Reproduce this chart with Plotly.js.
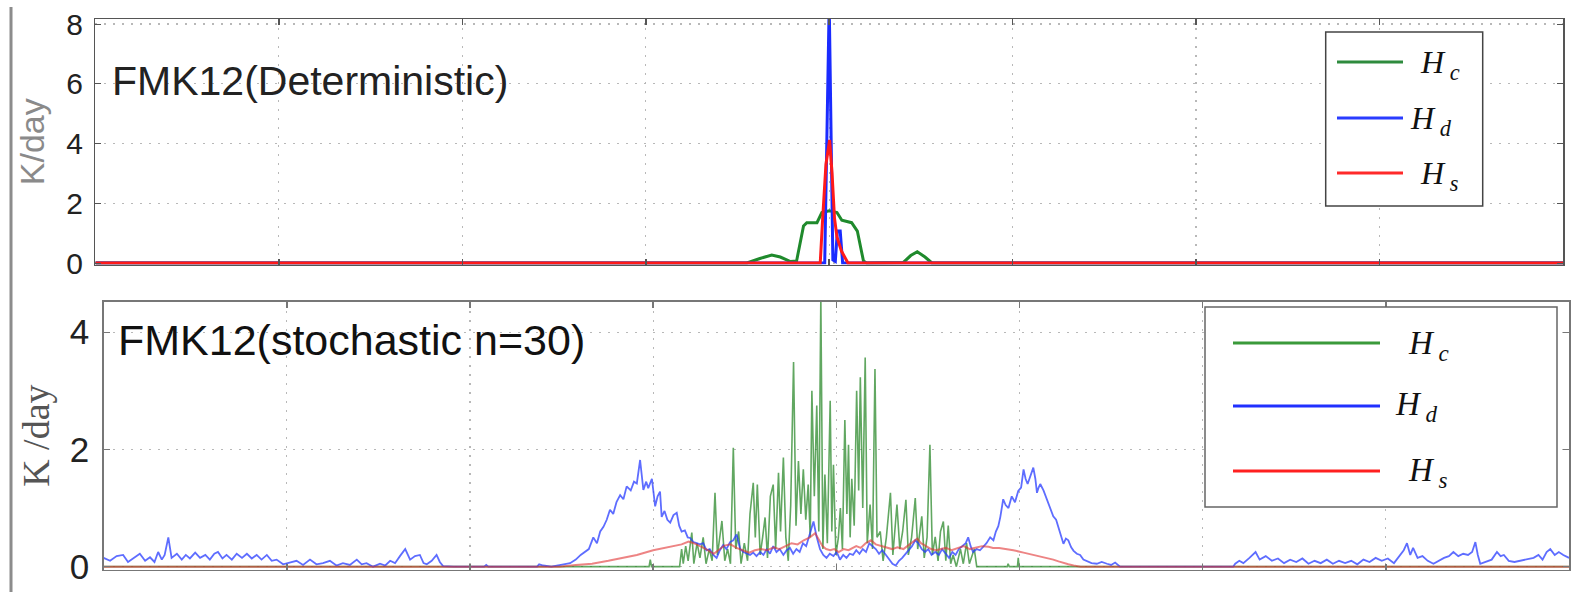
<!DOCTYPE html>
<html>
<head>
<meta charset="utf-8">
<script src="https://cdn.plot.ly/plotly-3.0.1.min.js"></script>
<style>html,body{margin:0;padding:0;background:#fff;}#chart{width:1571px;height:592px;}</style>
</head>
<body>
<div id="chart"></div>
<script>
// ---------- DATA ----------
const xTicks = [0, 45, 90, 135, 180, 225, 270, 315, 360];
const yTicksTop = [0, 2, 4, 6, 8];
const yTicksBottom = [0, 2, 4];
const seriesNames = ['H_c', 'H_d', 'H_s'];
const panelLabels = ['FMK12(Deterministic)', 'FMK12(stochastic n=30)'];

// Deterministic panel: [x, K/day]
const detHc = [[0,0],[159.8,0],[163,0.15],[165.9,0.27],[168,0.2],[170.5,0.05],[172.0,0.07],[173.7,1.24],[174.5,1.35],[177.0,1.35],[178.2,1.69],[179.0,1.72],[180,1.75],[181.0,1.72],[181.9,1.69],[183.1,1.43],[185.5,1.35],[186.9,1.07],[188.4,0.07],[189.2,0],[198.2,0.02],[200,0.25],[201.6,0.38],[203.5,0.2],[205.2,0],[360,0]];
const detHd = [[0,0],[178.9,0],[180.0,8.7],[180.9,0.1],[181.5,0.05],[182.0,1.07],[182.7,1.07],[183.3,0],[360,0]];
const detHs = [[0,0],[177.8,0],[178.4,1.5],[179.2,3.3],[180.1,4.12],[180.7,3.0],[181.3,1.5],[181.9,0.87],[183.0,0.4],[184.6,0],[360,0]];

// Stochastic panel: [x, K/day]
const stoHc = [[0,0],[134,0],[134.3,0.12],[134.6,0],[141.5,0],[142.0,0.3],[142.4,0.05],[143.0,0.35],[143.6,0.1],[144.5,0.58],[145.0,0.05],[145.8,0.4],[146.5,0.15],[147.3,0.5],[148.0,0.05],[148.8,0.3],[149.5,0.1],[150.2,1.26],[150.8,0.2],[151.4,0.5],[151.9,0.78],[152.6,0.1],[153.3,0.3],[154.0,0.05],[154.7,2.03],[155.3,0.3],[156.0,0.6],[156.6,0.05],[157.4,0.4],[158.2,0.1],[158.8,0.9],[159.6,1.43],[160.1,0.5],[160.6,1.4],[161.3,0.2],[161.9,0.5],[162.5,0.84],[163.1,0.15],[163.8,1.2],[164.5,1.4],[165.1,0.3],[165.8,1.6],[166.3,0.6],[167.0,1.86],[167.6,0.5],[168.2,0.1],[168.8,1.05],[169.5,3.49],[170.1,0.7],[170.7,1.8],[171.3,0.9],[171.9,1.66],[172.5,0.8],[173.1,1.4],[173.6,0.5],[174.0,3.0],[174.6,1.2],[175.2,2.75],[175.7,0.6],[176.2,4.6],[176.7,0.3],[177.2,1.57],[177.8,0.4],[178.5,2.83],[178.9,0.6],[179.3,1.74],[179.9,0.2],[180.5,0.49],[181.0,1.0],[181.5,0.3],[182.1,2.5],[182.6,0.9],[183.0,2.08],[183.4,0.5],[183.8,1.5],[184.4,0.7],[185.0,3.0],[185.5,1.3],[185.9,3.23],[186.5,1.0],[187.1,3.57],[187.6,0.4],[188.3,1.06],[188.9,0.3],[189.5,3.37],[190.0,0.5],[190.8,0.6],[191.5,0.1],[192.3,0.5],[193.3,1.26],[193.9,0.2],[194.9,1.06],[195.6,0.3],[196.3,0.6],[197.1,1.14],[197.7,0.2],[198.5,0.5],[199.4,1.17],[200.0,0.3],[201.0,0.86],[201.6,0.15],[202.3,0.5],[203.0,2.08],[203.6,0.2],[204.3,0.51],[205.0,0.1],[205.6,0.6],[206.3,0.77],[206.9,0.1],[207.5,0.7],[208.1,0.05],[208.7,0.2],[209.5,0.0],[210.5,0.3],[211.2,0.05],[212.0,0.4],[212.7,0.05],[213.9,0.3],[214.5,0.0],[222,0],[222.2,0.05],[222.5,0],[224.5,0],[224.7,0.15],[224.9,0],[360,0]];

const stoHd = [[0,0.15],[1.6,0.1],[3.2,0.18],[4.8,0.2],[6.0,0.08],[7.2,0.14],[8.9,0.22],[10.2,0.1],[11.4,0.16],[12.5,0.08],[13.4,0.25],[14.3,0.12],[15.0,0.2],[15.9,0.5],[16.7,0.15],[18.0,0.22],[19.2,0.12],[20.2,0.2],[21.2,0.14],[22.5,0.24],[23.7,0.15],[25.0,0.2],[26.1,0.12],[27.2,0.22],[28.1,0.25],[29.2,0.14],[30.2,0.2],[31.5,0.12],[32.7,0.22],[34.0,0.15],[35.2,0.22],[36.4,0.14],[37.6,0.2],[38.8,0.12],[40.1,0.2],[41.3,0.1],[42.5,0.12],[44.1,0.04],[45.5,0.06],[47.4,0.1],[49.0,0.03],[50.7,0.12],[52.3,0.04],[53.9,0.06],[55.6,0.1],[57.2,0.02],[58.8,0.06],[60.5,0.03],[62.2,0.12],[63.4,0.04],[64.6,0.06],[66.2,0.0],[67.9,0.05],[69.2,0.02],[70.4,0.1],[71.6,0.06],[72.8,0.18],[74.1,0.3],[75.3,0.12],[76.5,0.18],[77.7,0.2],[78.6,0.06],[79.4,0.04],[80.6,0.1],[81.8,0.2],[82.6,0.08],[83.4,0.01],[86,0],[93.5,0],[94,0.03],[94.5,0],[106.5,0],[107,0.04],[108,0.02],[110,0.0],[112,0.02],[113,0.04],[114.6,0.06],[116,0.12],[117.2,0.2],[118.3,0.26],[119.2,0.3],[120.3,0.5],[121.2,0.4],[122.0,0.6],[122.8,0.68],[123.6,0.8],[124.4,0.97],[125.2,0.9],[126.0,1.1],[126.9,1.22],[127.7,1.15],[128.5,1.37],[129.5,1.3],[130.3,1.45],[131.0,1.42],[131.8,1.82],[132.6,1.31],[133.3,1.45],[133.8,1.34],[134.7,1.5],[135.5,1.03],[136.1,1.2],[136.7,1.28],[137.1,0.85],[137.8,0.95],[138.5,0.8],[139.2,0.75],[140.0,0.88],[140.8,0.92],[141.4,0.7],[142.0,0.6],[142.8,0.62],[143.5,0.5],[144.1,0.49],[144.9,0.42],[145.7,0.4],[146.5,0.38],[147.3,0.4],[148.1,0.28],[148.9,0.3],[149.8,0.2],[150.6,0.15],[151.4,0.28],[152.2,0.37],[153.0,0.3],[153.9,0.42],[154.7,0.45],[155.5,0.55],[156.4,0.3],[157.2,0.25],[158.0,0.22],[158.8,0.2],[159.6,0.24],[160.4,0.18],[161.3,0.25],[162.1,0.2],[162.9,0.3],[163.7,0.22],[164.5,0.35],[165.3,0.25],[166.1,0.3],[167.0,0.2],[167.8,0.28],[168.6,0.32],[169.4,0.22],[170.2,0.3],[171.0,0.25],[171.8,0.4],[172.6,0.35],[173.5,0.55],[174.4,0.77],[175.2,0.5],[176.0,0.3],[176.8,0.2],[177.6,0.15],[178.4,0.22],[179.3,0.18],[180.1,0.25],[180.9,0.12],[181.7,0.2],[182.5,0.15],[183.3,0.22],[184.1,0.2],[184.9,0.28],[185.7,0.22],[186.5,0.3],[187.3,0.25],[188.1,0.4],[188.9,0.35],[189.7,0.3],[190.5,0.22],[191.3,0.28],[192.2,0.2],[193.0,0.12],[193.8,0.05],[194.6,0.02],[195.4,0.1],[196.2,0.15],[197.0,0.22],[197.8,0.3],[198.6,0.35],[199.4,0.45],[200.2,0.4],[201.0,0.3],[201.8,0.25],[202.6,0.3],[203.4,0.2],[204.3,0.25],[205.2,0.2],[206.0,0.3],[206.8,0.22],[207.7,0.15],[208.5,0.25],[209.3,0.2],[210.1,0.3],[211.0,0.35],[211.8,0.4],[212.4,0.5],[213.0,0.35],[213.6,0.25],[214.5,0.3],[215.3,0.28],[216.0,0.33],[216.9,0.4],[217.8,0.5],[218.6,0.45],[219.2,0.6],[219.8,0.69],[220.3,0.85],[221.0,1.15],[221.6,1.05],[222.3,1.0],[223.1,1.2],[223.9,1.1],[224.7,1.29],[225.4,1.35],[226.0,1.66],[226.5,1.5],[227.0,1.41],[227.7,1.55],[228.4,1.69],[228.9,1.5],[229.3,1.26],[229.7,1.35],[230.1,1.41],[230.9,1.3],[231.7,1.15],[232.5,1.0],[233.3,0.86],[234.0,0.8],[234.6,0.66],[235.2,0.55],[235.8,0.39],[236.4,0.48],[237.0,0.45],[237.7,0.33],[238.3,0.27],[239.1,0.22],[239.9,0.2],[240.7,0.12],[241.5,0.1],[242.7,0.06],[244.0,0.05],[245.2,0.08],[246.5,0.05],[247.5,0.03],[248.5,0.07],[249.7,0.0],[277.5,0],[278,0.05],[279,0.1],[280,0.06],[281.5,0.15],[283,0.25],[284,0.12],[285.5,0.18],[287,0.1],[288.5,0.14],[290,0.06],[291.5,0.12],[293,0.08],[294.5,0.14],[296,0.05],[297.5,0.1],[299,0.06],[300.5,0.12],[302,0.05],[303.5,0.1],[305,0.06],[306.5,0.1],[308,0.04],[309.5,0.12],[311,0.08],[312.5,0.15],[314,0.1],[315.5,0.14],[317,0.06],[318.5,0.2],[319.4,0.28],[320.2,0.4],[321,0.2],[321.7,0.32],[322.8,0.15],[324,0.18],[325.3,0.1],[326.7,0.05],[328,0.1],[329.3,0.15],[330.5,0.18],[331.6,0.25],[332.8,0.18],[334,0.22],[335.2,0.2],[336.2,0.25],[337,0.42],[337.6,0.2],[338.2,0.05],[339.5,0.08],[341,0.12],[342.3,0.25],[343.2,0.18],[344,0.2],[345.2,0.1],[346.6,0.08],[348,0.1],[349.5,0.12],[351.3,0.15],[352.5,0.2],[353.5,0.12],[354.5,0.25],[355.4,0.3],[356.5,0.2],[357.5,0.25],[358.6,0.2],[360,0.15]];

const stoHs = [[0,0],[112,0],[116,0.03],[120,0.05],[124,0.1],[127,0.14],[131,0.2],[135,0.28],[139,0.33],[142,0.38],[143.7,0.43],[145,0.4],[146.5,0.35],[148,0.3],[149.9,0.22],[151.5,0.3],[152.5,0.36],[154,0.38],[155.5,0.32],[157,0.28],[158.6,0.24],[160,0.28],[161.5,0.3],[163,0.28],[164.7,0.33],[166,0.3],[167.5,0.35],[169,0.4],[170.5,0.38],[172,0.45],[173.5,0.5],[174.8,0.57],[175.8,0.45],[176.6,0.35],[177.5,0.3],[178.5,0.28],[179.5,0.3],[180.6,0.25],[181.8,0.3],[183,0.28],[184.9,0.35],[186,0.32],[187.2,0.4],[188.5,0.45],[189.7,0.38],[191,0.35],[192.3,0.32],[193.7,0.3],[195,0.33],[196.5,0.3],[198,0.38],[199.2,0.45],[199.9,0.48],[200.8,0.4],[202,0.35],[203.3,0.3],[204.5,0.28],[205.5,0.3],[206.9,0.32],[208.3,0.28],[209.8,0.32],[211.3,0.35],[212.8,0.3],[214.3,0.33],[215.8,0.35],[217.4,0.34],[218.5,0.32],[220,0.32],[221.9,0.3],[223.5,0.28],[226,0.24],[228,0.21],[230,0.18],[231.7,0.15],[233.3,0.12],[234.6,0.09],[235.8,0.06],[237,0.04],[238.3,0.02],[240,0.0],[360,0]];

// ---------- STYLE ----------
const W = 1571, H = 592;
const px = v => v / W;            // pixel -> paper x
const py = v => 1 - v / H;        // pixel -> paper y
const cGreen = '#1f8a2c', cBlue = '#1a2bff', cRed = '#ff1a1a';
const xs = a => a.map(p => p[0]);
const ys = a => a.map(p => p[1]);

const traces = [
  {x: xs(detHc), y: ys(detHc), xaxis:'x', yaxis:'y', mode:'lines', name:seriesNames[0], line:{color:cGreen, width:3}},
  {x: xs(detHd), y: ys(detHd), xaxis:'x', yaxis:'y', mode:'lines', name:seriesNames[1], line:{color:cBlue, width:3}},
  {x: xs(detHs), y: ys(detHs), xaxis:'x', yaxis:'y', mode:'lines', name:seriesNames[2], line:{color:cRed, width:3}},
  {x: xs(stoHc), y: ys(stoHc), xaxis:'x2', yaxis:'y2', mode:'lines', name:seriesNames[0], line:{color:'rgba(30,130,30,0.7)', width:1.6}},
  {x: xs(stoHd), y: ys(stoHd), xaxis:'x2', yaxis:'y2', mode:'lines', name:seriesNames[1], line:{color:'rgba(40,60,255,0.75)', width:1.8}},
  {x: xs(stoHs), y: ys(stoHs), xaxis:'x2', yaxis:'y2', mode:'lines', name:seriesNames[2], line:{color:'rgba(225,50,50,0.6)', width:2}}
];

const xCommon = {
  range:[0,360], tickvals:xTicks, showticklabels:false, ticks:'inside', ticklen:6, tickwidth:1.5,
  showline:true, mirror:'ticks', zeroline:false, showgrid:true, griddash:'2px,7px', gridcolor:'#b8b8b8', gridwidth:1.2
};
const layout = {
  width:W, height:H, margin:{l:0,r:0,t:0,b:0}, paper_bgcolor:'#fff', plot_bgcolor:'#fff',
  showlegend:false, hovermode:false,
  xaxis: Object.assign({}, xCommon, {domain:[px(95.4), px(1563)], anchor:'y', linecolor:'#555', linewidth:1.5, tickcolor:'#555'}),
  yaxis: {domain:[py(264.5), py(19)], anchor:'x', range:[-0.05, 8.17], tickvals:yTicksTop, ticks:'inside', ticklen:6, tickcolor:'#555',
          showline:true, mirror:'ticks', linecolor:'#555', linewidth:1.5, zeroline:false, showgrid:true, griddash:'2px,7px', gridcolor:'#b8b8b8', gridwidth:1.2,
          tickfont:{family:'Liberation Sans, Arial, sans-serif', size:30, color:'#222'}, ticklabelstandoff:5,
          title:{text:'K/day', font:{family:'Liberation Sans, Arial, sans-serif', size:34, color:'#8a8a8a'}, standoff:11}},
  xaxis2: Object.assign({}, xCommon, {domain:[px(103.6), px(1569)], anchor:'y2', linecolor:'#777', linewidth:1.5, tickcolor:'#777'}),
  yaxis2: {domain:[py(569.6), py(301.7)], anchor:'x2', range:[-0.05, 4.52], tickvals:yTicksBottom, ticks:'inside', ticklen:6, tickcolor:'#777',
          showline:true, mirror:'ticks', linecolor:'#777', linewidth:1.5, zeroline:false, showgrid:true, griddash:'2px,7px', gridcolor:'#b8b8b8', gridwidth:1.2,
          tickfont:{family:'Liberation Sans, Arial, sans-serif', size:35, color:'#222'}, ticklabelstandoff:6,
          title:{text:'K /day', font:{family:'Liberation Serif, Times New Roman, serif', size:38, color:'#555'}, standoff:8}},
  annotations: [
    {text:panelLabels[0], xref:'paper', yref:'paper', x:px(110), y:py(81), xanchor:'left', yanchor:'middle', showarrow:false,
     font:{family:'Liberation Sans, Arial, sans-serif', size:41, color:'#222'}},
    {text:panelLabels[1], xref:'paper', yref:'paper', x:px(116), y:py(340), xanchor:'left', yanchor:'middle', showarrow:false,
     font:{family:'Liberation Sans, Arial, sans-serif', size:43, color:'#111'}},
    // legend labels, top panel
    {text:'<i>H</i><sub><i> c</i></sub>', xref:'paper', yref:'paper', x:px(1418), y:py(65), xanchor:'left', yanchor:'middle', showarrow:false, font:{family:'Liberation Serif, serif', size:32, color:'#111'}},
    {text:'<i>H</i><sub><i> d</i></sub>', xref:'paper', yref:'paper', x:px(1408), y:py(120), xanchor:'left', yanchor:'middle', showarrow:false, font:{family:'Liberation Serif, serif', size:32, color:'#111'}},
    {text:'<i>H</i><sub><i> s</i></sub>', xref:'paper', yref:'paper', x:px(1418), y:py(175), xanchor:'left', yanchor:'middle', showarrow:false, font:{family:'Liberation Serif, serif', size:32, color:'#111'}},
    // legend labels, bottom panel
    {text:'<i>H</i><sub><i> c</i></sub>', xref:'paper', yref:'paper', x:px(1406), y:py(345), xanchor:'left', yanchor:'middle', showarrow:false, font:{family:'Liberation Serif, serif', size:33, color:'#111'}},
    {text:'<i>H</i><sub><i> d</i></sub>', xref:'paper', yref:'paper', x:px(1393), y:py(406), xanchor:'left', yanchor:'middle', showarrow:false, font:{family:'Liberation Serif, serif', size:33, color:'#111'}},
    {text:'<i>H</i><sub><i> s</i></sub>', xref:'paper', yref:'paper', x:px(1406), y:py(472), xanchor:'left', yanchor:'middle', showarrow:false, font:{family:'Liberation Serif, serif', size:33, color:'#111'}}
  ],
  shapes: [
    // left figure edge line
    {type:'line', xref:'paper', yref:'paper', x0:px(11), x1:px(11), y0:py(7), y1:py(592), line:{color:'#8c8c8c', width:3}},
    // legend boxes
    {type:'rect', xref:'paper', yref:'paper', x0:px(1325.7), x1:px(1482.7), y0:py(206), y1:py(32), line:{color:'#444', width:1.5}, fillcolor:'#fff'},
    {type:'rect', xref:'paper', yref:'paper', x0:px(1205), x1:px(1557), y0:py(507), y1:py(307), line:{color:'#666', width:1.5}, fillcolor:'#fff'},
    // legend swatches top
    {type:'line', xref:'paper', yref:'paper', x0:px(1337), x1:px(1403), y0:py(62), y1:py(62), line:{color:'#2e8b3e', width:3}},
    {type:'line', xref:'paper', yref:'paper', x0:px(1337), x1:px(1403), y0:py(118), y1:py(118), line:{color:'#2a3cff', width:3}},
    {type:'line', xref:'paper', yref:'paper', x0:px(1337), x1:px(1403), y0:py(173), y1:py(173), line:{color:'#ff2a2a', width:3}},
    // legend swatches bottom
    {type:'line', xref:'paper', yref:'paper', x0:px(1233), x1:px(1380), y0:py(343), y1:py(343), line:{color:'#3a9a3a', width:3}},
    {type:'line', xref:'paper', yref:'paper', x0:px(1233), x1:px(1380), y0:py(406), y1:py(406), line:{color:'#2030ff', width:3}},
    {type:'line', xref:'paper', yref:'paper', x0:px(1233), x1:px(1380), y0:py(471), y1:py(471), line:{color:'#ff2020', width:3}}
  ]
};

Plotly.newPlot('chart', traces, layout, {displayModeBar:false, staticPlot:true});
</script>
</body>
</html>
